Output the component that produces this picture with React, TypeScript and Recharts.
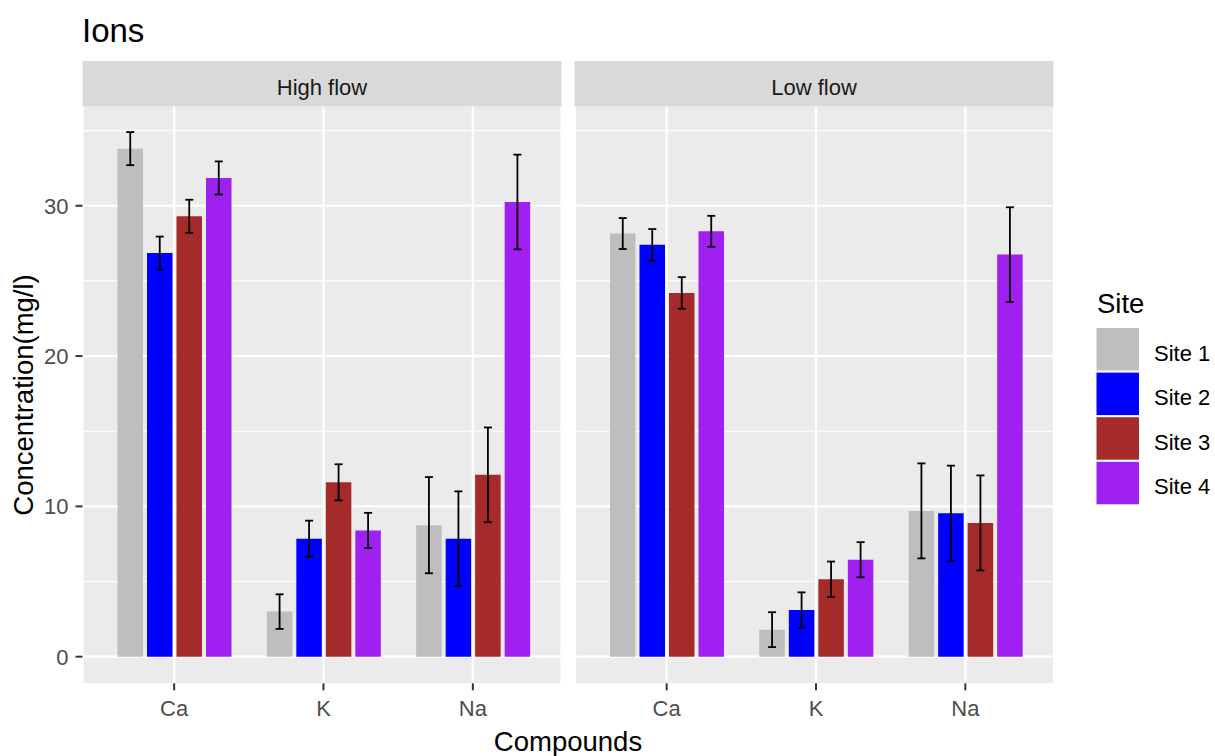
import React from 'react';
import { BarChart, Bar, XAxis, YAxis, CartesianGrid, ErrorBar } from 'recharts';

const compounds = ['Ca', 'K', 'Na'];
const sites = ['Site 1', 'Site 2', 'Site 3', 'Site 4'];
const siteColors = ['#BEBEBE', '#0000FF', '#A52A2A', '#A020F0'];
const panelTitles = ['High flow', 'Low flow'];
const yTicks = [0, 10, 20, 30];
const minorTicks = [5, 15, 25, 35];

// High flow means and error half-widths (Ca, K, Na)
const highSite1 = [33.8, 3.0, 8.75];
const highSite2 = [26.85, 7.85, 7.85];
const highSite3 = [29.3, 11.6, 12.1];
const highSite4 = [31.85, 8.4, 30.25];
const highSite1Err = [1.1, 1.15, 3.2];
const highSite2Err = [1.1, 1.2, 3.15];
const highSite3Err = [1.1, 1.2, 3.15];
const highSite4Err = [1.1, 1.17, 3.15];

// Low flow
const lowSite1 = [28.15, 1.8, 9.7];
const lowSite2 = [27.4, 3.1, 9.55];
const lowSite3 = [24.2, 5.15, 8.9];
const lowSite4 = [28.3, 6.45, 26.75];
const lowSite1Err = [1.03, 1.16, 3.16];
const lowSite2Err = [1.05, 1.18, 3.16];
const lowSite3Err = [1.05, 1.18, 3.16];
const lowSite4Err = [1.03, 1.17, 3.15];

const FONT = '"Liberation Sans", Arial, Helvetica, sans-serif';

function buildRows(values: number[][], errs: number[][]) {
  return compounds.map((c, i) => {
    const r: any = { compound: c };
    values.forEach((v, s) => {
      r['s' + s] = v[i];
      r['e' + s] = errs[s][i];
    });
    return r;
  });
}

const highRows = buildRows(
  [highSite1, highSite2, highSite3, highSite4],
  [highSite1Err, highSite2Err, highSite3Err, highSite4Err]
);
const lowRows = buildRows(
  [lowSite1, lowSite2, lowSite3, lowSite4],
  [lowSite1Err, lowSite2Err, lowSite3Err, lowSite4Err]
);

const PLOT_TOP = 106.7;
const PLOT_BOTTOM = 683.3;
const PANEL_W = 479;
const Y_W = 82.5;
const panelLefts = [82.5, 574.5];

function Panel({ rows, left, showY }: { rows: any[]; left: number; showY: boolean }) {
  const yW = showY ? Y_W : 0;
  return (
    <div style={{ position: 'absolute', left: left - yW, top: 0 }}>
      <BarChart
        width={PANEL_W + yW}
        height={756}
        data={rows}
        margin={{ top: PLOT_TOP, bottom: 0, left: 0, right: 0 }}
        barSize={25.5}
        barGap={4}
      >
        <CartesianGrid
          fill="#EBEBEB"
          fillOpacity={1}
          stroke="#FFFFFF"
          strokeWidth={1.1}
          vertical={false}
          horizontalValues={minorTicks}
        />
        <CartesianGrid stroke="#FFFFFF" strokeWidth={2.2} horizontalValues={yTicks} />
        <XAxis
          dataKey="compound"
          type="category"
          interval={0}
          padding={{ left: 17, right: 14 }}
          height={756 - PLOT_BOTTOM}
          tickSize={7}
          tickMargin={10}
          axisLine={false}
          tickLine={{ stroke: '#333333', strokeWidth: 2 }}
          tick={{ fill: '#4D4D4D', fontSize: 22, fontFamily: FONT }}
        />
        <YAxis
          type="number"
          domain={[-1.77, 36.59]}
          allowDataOverflow
          ticks={yTicks}
          hide={!showY}
          width={Y_W}
          tickSize={7}
          tickMargin={7}
          axisLine={false}
          tickLine={{ stroke: '#333333', strokeWidth: 2 }}
          tick={{ fill: '#4D4D4D', fontSize: 22, fontFamily: FONT }}
        />
        {sites.map((s, i) => (
          <Bar key={s} dataKey={'s' + i} name={s} fill={siteColors[i]} isAnimationActive={false}>
            <ErrorBar
              dataKey={'e' + i}
              width={4}
              stroke="#000000"
              strokeWidth={1.8}
              isAnimationActive={false}
            />
          </Bar>
        ))}
      </BarChart>
    </div>
  );
}

export default function App() {
  const legendTop = 328;
  const keyPitch = 44.6;
  return (
    <div
      style={{
        position: 'absolute',
        left: 0,
        top: 0,
        width: 1215,
        height: 756,
        background: '#FFFFFF',
        fontFamily: FONT,
        overflow: 'hidden',
      }}
    >
      <svg width={1215} height={756} style={{ position: 'absolute', left: 0, top: 0 }}>
        <text x={82} y={41.5} fontSize={33} fill="#000000" fontFamily={FONT}>
          Ions
        </text>
        {panelTitles.map((t, i) => (
          <g key={t}>
            <rect x={panelLefts[i]} y={61} width={PANEL_W} height={PLOT_TOP - 61} fill="#D9D9D9" />
            <text
              x={panelLefts[i] + PANEL_W / 2}
              y={95}
              textAnchor="middle"
              fontSize={22}
              fill="#1A1A1A"
              fontFamily={FONT}
            >
              {t}
            </text>
          </g>
        ))}
        <text
          transform={`translate(32.5, ${(PLOT_TOP + PLOT_BOTTOM) / 2}) rotate(-90)`}
          textAnchor="middle"
          fontSize={27.5}
          fill="#000000"
          fontFamily={FONT}
        >
          Concentration(mg/l)
        </text>
        <text x={568} y={751} textAnchor="middle" fontSize={27.5} fill="#000000" fontFamily={FONT}>
          Compounds
        </text>
        <text x={1097} y={313.3} fontSize={27.5} fill="#000000" fontFamily={FONT}>
          Site
        </text>
        {sites.map((s, i) => (
          <g key={s}>
            <rect
              x={1096.5}
              y={legendTop + i * keyPitch}
              width={42.5}
              height={42.5}
              fill={siteColors[i]}
            />
            <text
              x={1154}
              y={legendTop + i * keyPitch + 32.5}
              fontSize={22}
              fill="#000000"
              fontFamily={FONT}
            >
              {s}
            </text>
          </g>
        ))}
      </svg>
      <Panel rows={highRows} left={panelLefts[0]} showY={true} />
      <Panel rows={lowRows} left={panelLefts[1]} showY={false} />
    </div>
  );
}
